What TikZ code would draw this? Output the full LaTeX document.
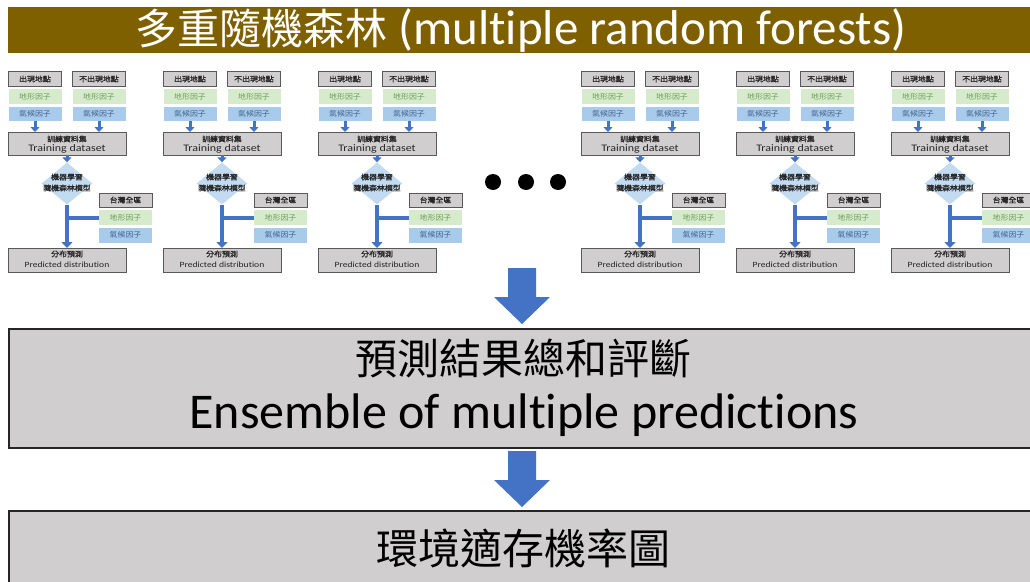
\documentclass[tikz,border=0pt]{standalone}
\usepackage{fontspec}
\setmainfont{Carlito}[Ligatures=NoCommon]
\newfontfamily\cjk{Noto Sans CJK TC}
\newfontfamily\scjk[FakeStretch=1.1]{Noto Sans CJK TC}
\newfontfamily\bcjk[FakeStretch=1.1,FakeBold=1.2]{Noto Sans CJK TC}
\newfontfamily\slat[FakeStretch=1.2,Ligatures=NoCommon]{Carlito}
\usetikzlibrary{shapes.geometric,arrows.meta}
\definecolor{titlebrown}{HTML}{7F6000}
\definecolor{boxgray}{HTML}{D0CECE}
\definecolor{arrowblue}{HTML}{4472C4}
\definecolor{lgreen}{HTML}{D6EACC}
\definecolor{lblue}{HTML}{A9CBEB}
\definecolor{dblue}{HTML}{C3DBF1}
\definecolor{gtext}{HTML}{6E9B5A}
\definecolor{btext}{HTML}{3F5F8F}
\begin{document}
\begin{tikzpicture}[x=1pt,y=-1pt,
  sm/.style={inner sep=0pt, outer sep=0pt, font=\scjk\fontsize{7.2}{8}\selectfont},
  gbox/.style={sm, font=\bcjk\fontsize{7.2}{8}\selectfont, draw=black!65, line width=0.8pt, fill=boxgray, text=black!85},
  gfac/.style={sm, fill=lgreen, text=gtext},
  bfac/.style={sm, fill=lblue, text=btext},
  dia/.style={diamond, inner sep=0pt, minimum width=51pt, minimum height=42pt, fill=dblue},
  sarrow/.style={draw=arrowblue, line width=3pt, -{Triangle[width=9pt,length=5pt]}},
  tarrow/.style={draw=arrowblue, line width=4pt, -{Triangle[width=11pt,length=6pt]}},
  tline/.style={draw=arrowblue, line width=4pt},
  bigbox/.style={fill=boxgray, draw=black!85, line width=2pt, inner sep=0pt},
  bigarrow/.style={fill=arrowblue},
  dot/.style={circle, fill=black, inner sep=0pt, minimum size=16pt}
]
\clip (0,0) rectangle (1030,581);
\fill[white] (0,0) rectangle (1030,581);

% title
\node[fill=titlebrown, inner sep=0pt, anchor=north west, minimum width=1032pt, minimum height=46pt] (titlebar) at (8,7) {};
\node[anchor=base, text=white, inner sep=0pt] (title) at (521,44)
  {{\cjk\fontsize{42}{42}\selectfont 多重隨機森林}\fontsize{49}{49}\selectfont\ (multiple random forests)};

% units
\foreach \n/\ox in {1/0,2/155,3/310,4/573,5/728,6/883}{
\begin{scope}[xshift=\ox pt]
  \node[gbox, minimum width=53pt, minimum height=15pt] (u\n-a1) at (35,79) {出現地點};
  \node[gfac, minimum width=53pt, minimum height=14.5pt] (u\n-a2) at (35,96.5) {地形因子};
  \node[bfac, minimum width=53pt, minimum height=14.5pt] (u\n-a3) at (35,114) {氣候因子};
  \node[gbox, minimum width=53pt, minimum height=15pt] (u\n-b1) at (99,79) {不出現地點};
  \node[gfac, minimum width=53pt, minimum height=14.5pt] (u\n-b2) at (99,96.5) {地形因子};
  \node[bfac, minimum width=53pt, minimum height=14.5pt] (u\n-b3) at (99,114) {氣候因子};
  \node[gbox, minimum width=118pt, minimum height=23pt] (u\n-tr) at (67,143.5) {};
  \node[sm, font=\bcjk\fontsize{7.2}{8}\selectfont, text=black!85] (u\n-trz) at (67,139) {訓練資料集};
  \node[sm, font=\slat\fontsize{10}{10}\selectfont, text=black!85] (u\n-tre) at (67,149) {Training dataset};
  \node[dia] (u\n-d) at (67,183.5) {};
  \node[sm, font=\bcjk\fontsize{7.2}{8}\selectfont, text=black!85] (u\n-dt1) at (67,177) {機器學習};
  \node[sm, font=\bcjk\fontsize{7.2}{8}\selectfont, text=black!85] (u\n-dt2) at (67,188) {隨機森林模型};
  \node[gbox, minimum width=53pt, minimum height=14pt] (u\n-c1) at (125.5,200) {台灣全區};
  \node[gfac, minimum width=53pt, minimum height=15pt] (u\n-c2) at (125.5,217.5) {地形因子};
  \node[bfac, minimum width=53pt, minimum height=15pt] (u\n-c3) at (125.5,235) {氣候因子};
  \node[gbox, minimum width=118pt, minimum height=24pt] (u\n-pr) at (67,260) {};
  \node[sm, font=\bcjk\fontsize{7.2}{8}\selectfont, text=black!85] (u\n-prz) at (67,254) {分布預測};
  \node[sm, font=\slat\fontsize{8}{8}\selectfont, text=black!85] (u\n-pre) at (67,265) {Predicted distribution};
  \draw[sarrow] (u\n-a3.south) -- (u\n-a3.south |- u\n-tr.north);
  \draw[sarrow] (u\n-b3.south) -- (u\n-b3.south |- u\n-tr.north);
  \draw[sarrow] (u\n-tr.south) -- (u\n-d.north);
  \draw[tarrow] (u\n-d.south) -- (u\n-pr.north);
  \draw[tline] (u\n-c2.west) -- (u\n-d.south |- u\n-c2.west);
\end{scope}
}

% dots
\node[dot] (dot1) at (493,182) {};
\node[dot] (dot2) at (526,182) {};
\node[dot] (dot3) at (558,182) {};

% arrow 1
\fill[bigarrow] (508,268) -- (536,268) -- (536,297) -- (550,297) -- (522,324) -- (494,297) -- (508,297) -- cycle;

% ensemble box
\node[bigbox, anchor=north west, minimum width=1030pt, minimum height=119pt] (ens) at (8,328) {};
\node[anchor=base, inner sep=0pt] (ens-zh) at (523,374) {\cjk\fontsize{42}{42}\selectfont 預測結果總和評斷};
\node[anchor=base, inner sep=0pt] (ens-en) at (524,428) {\fontsize{50}{50}\selectfont Ensemble of multiple predictions};

% arrow 2
\fill[bigarrow] (508,451) -- (536,451) -- (536,480) -- (550,480) -- (522,507) -- (494,480) -- (508,480) -- cycle;

% final box
\node[bigbox, anchor=north west, minimum width=1030pt, minimum height=90pt] (res) at (8,510) {};
\node[anchor=base, inner sep=0pt] (res-zh) at (523,564) {\cjk\fontsize{42}{42}\selectfont 環境適存機率圖};
\end{tikzpicture}
\end{document}
